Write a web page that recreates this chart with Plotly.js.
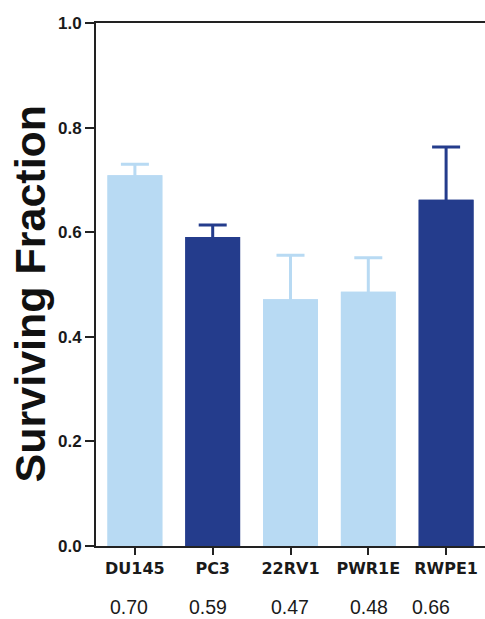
<!DOCTYPE html>
<html>
<head>
<meta charset="utf-8">
<script src="https://cdn.plot.ly/plotly-3.0.1.min.js"></script>
<style>html,body{margin:0;padding:0;background:#fff;}#chart{width:485px;height:619px;}</style>
</head>
<body>
<div id="chart"></div>
<script>
const categories = ["DU145", "PC3", "22RV1", "PWR1E", "RWPE1"];
const survivingFraction = [0.709, 0.591, 0.472, 0.486, 0.662];
const errorUp = [0.021, 0.023, 0.084, 0.065, 0.101];
const valueLabels = ["0.70", "0.59", "0.47", "0.48", "0.66"];
const barColors = ["#b8daf3", "#243c8c", "#b8daf3", "#b8daf3", "#243c8c"];
const yTickValues = [0.0, 0.2, 0.4, 0.6, 0.8, 1.0];

const traces = [];
categories.forEach((c, i) => {
  // bar with symmetric error bar (lower half hidden by the covering bar drawn next)
  traces.push({
    type: "bar", x: [c], y: [survivingFraction[i]], width: 0.705,
    marker: {color: barColors[i], line: {width: 0}},
    error_y: {type: "data", symmetric: true, array: [errorUp[i]],
              color: barColors[i], thickness: 3, width: 14},
    showlegend: false, hoverinfo: "skip"
  });
});
categories.forEach((c, i) => {
  traces.push({
    type: "bar", x: [c], y: [survivingFraction[i]], width: 0.705,
    marker: {color: barColors[i], line: {width: 0}},
    showlegend: false, hoverinfo: "x+y"
  });
});

const labelShift = [-6, -5, -1, 1, -15];
const annotations = valueLabels.map((t, i) => ({
  x: categories[i], xref: "x", y: 0, yref: "paper",
  yanchor: "middle", xanchor: "center", yshift: -61, xshift: labelShift[i],
  text: t, showarrow: false, borderpad: 0,
  font: {family: "Liberation Sans, Arial, sans-serif", size: 19.5, color: "#1a1a1a"}
}));
annotations.push({
  x: 0, xref: "paper", y: 0.483, yref: "paper", xshift: -66,
  xanchor: "center", yanchor: "middle", textangle: -90, showarrow: false,
  text: "<b>Surviving Fraction</b>",
  font: {family: "Liberation Sans, Arial, sans-serif", size: 43, color: "#111"}
});

const layout = {
  width: 485, height: 619,
  margin: {l: 96, r: 0, t: 22.5, b: 73},
  paper_bgcolor: "#fff", plot_bgcolor: "#fff",
  barmode: "overlay",
  xaxis: {
    type: "category", categoryorder: "array", categoryarray: categories,
    range: [-0.5, 4.5], showline: true, linecolor: "#222", linewidth: 2, mirror: true,
    ticks: "outside", ticklen: 7, tickwidth: 2, tickcolor: "#222",
    showgrid: false, zeroline: false,
    tickfont: {family: "DejaVu Sans, sans-serif", size: 16, color: "#1a1a1a", weight: "bold"}
  },
  yaxis: {
    range: [0, 1], tickvals: yTickValues, ticktext: yTickValues.map(v => v.toFixed(1)),
    showline: true, linecolor: "#222", linewidth: 2,
    ticks: "outside", ticklen: 9, tickwidth: 2, tickcolor: "#222",
    showgrid: false, zeroline: false,
    tickfont: {family: "Liberation Sans, Arial, sans-serif", size: 17, color: "#1a1a1a", weight: "bold"}
  },
  annotations: annotations
};

Plotly.newPlot("chart", traces, layout, {displayModeBar: false, staticPlot: true});
</script>
</body>
</html>
